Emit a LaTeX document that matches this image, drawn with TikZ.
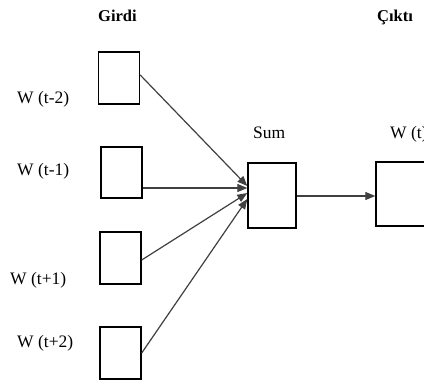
\documentclass[tikz,border=0pt]{standalone}
\usepackage{fontspec}
\setmainfont{Liberation Serif}
\usetikzlibrary{arrows.meta}
\begin{document}
\begin{tikzpicture}[x=1pt,y=1pt,
  cell/.style={draw=black, line width=1.4pt, fill=white, inner sep=0pt, minimum width=#1},
  cell/.default=41pt,
  lbl/.style={anchor=base west, inner sep=0pt, font=\fontsize{17.5}{20}\selectfont},
  head/.style={lbl, font=\fontsize{16.5}{19}\selectfont\bfseries},
  feed/.style={draw=black!75, line width=1.2pt, -{Triangle[length=10pt,width=8pt]}}]
\useasboundingbox (0,0) rectangle (424,-380);
\clip (0,0) rectangle (424,-380);
\fill[white] (0,0) rectangle (424,-380);

% column headings
\node[head] (hin) at (98,-22) {Girdi};
\node[head] (hout) at (377,-22) {Çıktı};

% input cells
\node[cell, minimum height=52pt] (b1) at (119,-78) {};
\node[cell, minimum height=51pt] (b2) at (121.5,-172.5) {};
\node[cell, minimum height=52pt] (b3) at (120.5,-258) {};
\node[cell, minimum height=52pt] (b4) at (120.5,-353) {};

% input labels
\node[lbl] (w1) at (17,-103) {W (t-2)};
\node[lbl] (w2) at (17,-175) {W (t-1)};
\node[lbl] (w3) at (10,-284) {W (t+1)};
\node[lbl] (w4) at (17,-347) {W (t+2)};

% sum and output cells
\node[cell=48pt, minimum height=65pt] (sum) at (272,-195.5) {};
\node[cell=60pt, minimum height=64pt] (out) at (406,-194) {};
\node[lbl] (lsum) at (253,-138) {Sum};
\node[lbl] (lout) at (390,-138) {W (t)};

% connectors
\draw[feed] ([yshift=3pt]b1.east) -- ([yshift=9.5pt]sum.west);
\draw[feed] ([yshift=-15.5pt]b2.east) -- ([yshift=7.5pt]sum.west);
\draw[feed] ([yshift=-2pt]b3.east) -- ([yshift=2.5pt]sum.west);
\draw[feed] (b4.east) -- ([yshift=-3.5pt]sum.west);
\draw[feed] ([yshift=-0.5pt]sum.east) -- ([yshift=-0.5pt]sum.east -| out.west);
\end{tikzpicture}
\end{document}
